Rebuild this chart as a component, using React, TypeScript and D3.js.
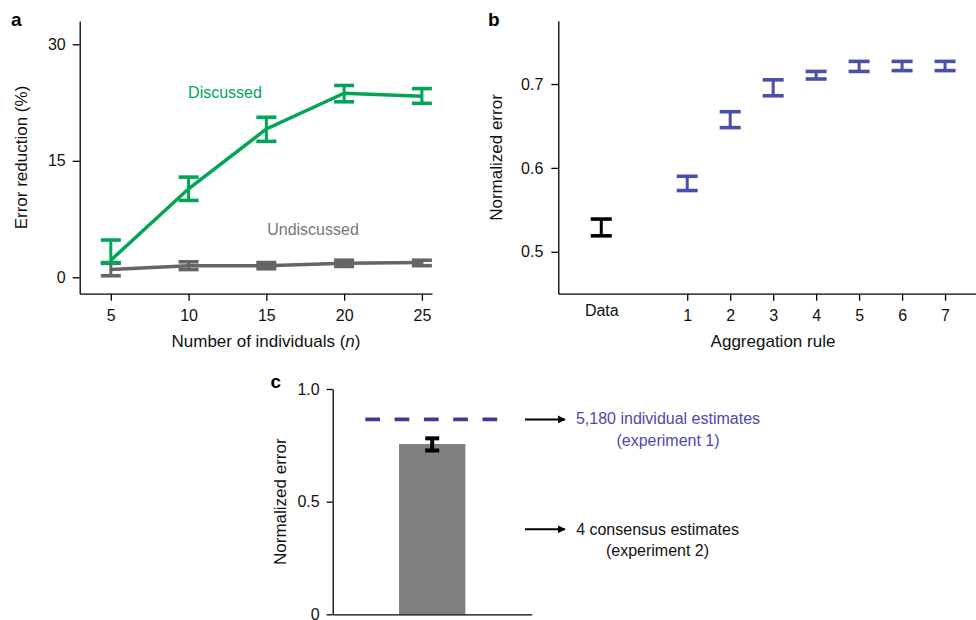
import React, { useRef, useEffect } from "react";
import * as d3 from "d3";

// ─── panel a: error reduction vs group size ──────────────────────────────
const groupSizes = [5, 10, 15, 20, 25];
const discussedMean = [2.2, 11.4, 19.1, 23.7, 23.3];
const discussedLow = [1.9, 9.9, 17.5, 22.6, 22.4];
const discussedHigh = [4.8, 12.9, 20.6, 24.7, 24.3];
const undiscussedMean = [1.0, 1.5, 1.5, 1.8, 1.9];
const undiscussedLow = [0.2, 1.0, 1.1, 1.4, 1.5];
const undiscussedHigh = [1.8, 2.0, 1.9, 2.2, 2.2];
const aTicksY = [0, 15, 30];

// ─── panel b: aggregation rules ──────────────────────────────────────────
const ruleLabels = ["Data", "1", "2", "3", "4", "5", "6", "7"];
const rulePositions = [-1, 1, 2, 3, 4, 5, 6, 7];
const ruleLow = [0.519, 0.573, 0.648, 0.686, 0.706, 0.715, 0.716, 0.716];
const ruleHigh = [0.539, 0.59, 0.667, 0.705, 0.715, 0.727, 0.727, 0.727];
const bTicksY = [0.5, 0.6, 0.7];

// ─── panel c: consensus vs individual ────────────────────────────────────
const consensusError = 0.756;
const consensusLow = 0.727;
const consensusHigh = 0.781;
const individualError = 0.865;
const cTicksY = [0, 0.5, 1];

const FONT = "'Liberation Sans', Arial, Helvetica, sans-serif";
const GREEN = "#00a556";
const GRAY = "#656565";
const BLUE = "#4a4fa8";
const PURPLE = "#3f399c";
const PURPLE_TEXT = "#5148ad";

type Bar = { x: number; lo: number; hi: number; color: string };

function drawErrorBars(g: any, bars: Bar[], x: any, y: any, capW: number, capStroke: number, stemStroke: number) {
  const eg = g.append("g");
  eg.selectAll("line.stem")
    .data(bars)
    .join("line")
    .attr("class", "stem")
    .attr("x1", (d: Bar) => x(d.x)).attr("x2", (d: Bar) => x(d.x))
    .attr("y1", (d: Bar) => y(d.lo)).attr("y2", (d: Bar) => y(d.hi))
    .attr("stroke", (d: Bar) => d.color)
    .attr("stroke-width", stemStroke);
  ["lo", "hi"].forEach((k) => {
    eg.selectAll(`line.cap-${k}`)
      .data(bars)
      .join("line")
      .attr("class", `cap-${k}`)
      .attr("x1", (d: Bar) => x(d.x) - capW / 2).attr("x2", (d: Bar) => x(d.x) + capW / 2)
      .attr("y1", (d: any) => y(d[k])).attr("y2", (d: any) => y(d[k]))
      .attr("stroke", (d: Bar) => d.color)
      .attr("stroke-width", capStroke);
  });
}

function styleAxis(g: any) {
  g.attr("font-family", FONT).attr("font-size", 16);
  g.select(".domain").attr("stroke", "#000").attr("stroke-width", 1.3);
  g.selectAll(".tick line").attr("stroke", "#000").attr("stroke-width", 1.3);
  g.selectAll(".tick text").attr("fill", "#111");
}

export default function App() {
  const svgRef = useRef<SVGSVGElement>(null);

  useEffect(() => {
    const svg = d3.select(svgRef.current);
    svg.selectAll("*").remove();

    // ─── panel a ───────────────────────────────────────────────────────────
    const xa = d3.scaleLinear().domain([3, 25.65]).range([79.7, 432]);
    const ya = d3.scaleLinear().domain([-2.11, 33.0]).range([293.7, 21]);
    const ga = svg.append("g");

    ga.append("g")
      .attr("transform", "translate(0,293.7)")
      .call(d3.axisBottom(xa).tickValues(groupSizes).tickSize(7).tickSizeOuter(0).tickPadding(9) as any)
      .call(styleAxis);
    ga.append("g")
      .attr("transform", "translate(79.7,0)")
      .call(d3.axisLeft(ya).tickValues(aTicksY).tickSize(7).tickSizeOuter(0).tickPadding(7) as any)
      .call(styleAxis);

    const lineA = d3.line<number>().x((_, i) => xa(groupSizes[i])).y((d) => ya(d));
    ga.append("path").datum(undiscussedMean).attr("d", lineA)
      .attr("fill", "none").attr("stroke", GRAY).attr("stroke-width", 3.5);
    drawErrorBars(ga, groupSizes.map((n, i) => ({ x: n, lo: undiscussedLow[i], hi: undiscussedHigh[i], color: GRAY })),
      xa, ya, 20, 3.6, 3);
    ga.append("path").datum(discussedMean).attr("d", lineA)
      .attr("fill", "none").attr("stroke", GREEN).attr("stroke-width", 3.5);
    drawErrorBars(ga, groupSizes.map((n, i) => ({ x: n, lo: discussedLow[i], hi: discussedHigh[i], color: GREEN })),
      xa, ya, 20, 3.6, 3);

    ga.append("text").attr("x", 225).attr("y", 97.5).attr("text-anchor", "middle")
      .attr("font-family", FONT).attr("font-size", 16).attr("fill", GREEN).text("Discussed");
    ga.append("text").attr("x", 313).attr("y", 234.5).attr("text-anchor", "middle")
      .attr("font-family", FONT).attr("font-size", 16).attr("fill", "#777").text("Undiscussed");

    const xTitle = ga.append("text").attr("x", 266).attr("y", 347).attr("text-anchor", "middle")
      .attr("font-family", FONT).attr("font-size", 17).attr("fill", "#111");
    xTitle.append("tspan").text("Number of individuals (");
    xTitle.append("tspan").attr("font-style", "italic").text("n");
    xTitle.append("tspan").text(")");
    ga.append("text").attr("transform", "translate(27,157.5) rotate(-90)").attr("text-anchor", "middle")
      .attr("font-family", FONT).attr("font-size", 17).attr("fill", "#111").text("Error reduction (%)");
    ga.append("text").attr("x", 11).attr("y", 26).attr("font-family", FONT).attr("font-size", 19)
      .attr("font-weight", "bold").text("a");

    // ─── panel b ───────────────────────────────────────────────────────────
    const xb = d3.scaleLinear().domain([-2, 7.72]).range([558.3, 976]);
    const yb = d3.scaleLinear().domain([0.45, 0.7755]).range([293.7, 20.7]);
    const gb = svg.append("g");

    const bx = gb.append("g")
      .attr("transform", "translate(0,293.7)")
      .call(d3.axisBottom(xb).tickValues(rulePositions).tickSize(7).tickSizeOuter(0).tickPadding(9)
        .tickFormat((_, i) => ruleLabels[i]) as any)
      .call(styleAxis);
    const dataTick = bx.selectAll(".tick").filter((_: any, i: number) => i === 0);
    dataTick.select("line").remove();
    dataTick.select("text").attr("y", 11);
    gb.append("g")
      .attr("transform", "translate(558.3,0)")
      .call(d3.axisLeft(yb).tickValues(bTicksY).tickSize(7).tickSizeOuter(0).tickPadding(8)
        .tickFormat(d3.format(".1f")) as any)
      .call(styleAxis);

    drawErrorBars(gb, rulePositions.map((p, i) => ({ x: p, lo: ruleLow[i], hi: ruleHigh[i], color: i === 0 ? "#000" : BLUE })),
      xb, yb, 21, 3.6, 3);

    gb.append("text").attr("x", 773).attr("y", 347).attr("text-anchor", "middle")
      .attr("font-family", FONT).attr("font-size", 17).attr("fill", "#111").text("Aggregation rule");
    gb.append("text").attr("transform", "translate(501.5,157.5) rotate(-90)").attr("text-anchor", "middle")
      .attr("font-family", FONT).attr("font-size", 17).attr("fill", "#111").text("Normalized error");
    gb.append("text").attr("x", 488).attr("y", 25.7).attr("font-family", FONT).attr("font-size", 19)
      .attr("font-weight", "bold").text("b");

    // ─── panel c ───────────────────────────────────────────────────────────
    const yc = d3.scaleLinear().domain([0, 1]).range([614.3, 389]);
    const xc = d3.scaleBand().domain(["consensus"]).range([332.7, 531.7]).paddingInner(0).paddingOuter(1);
    const gc = svg.append("g");

    gc.append("rect")
      .attr("x", xc("consensus")!).attr("width", xc.bandwidth())
      .attr("y", yc(consensusError)).attr("height", yc(0) - yc(consensusError))
      .attr("fill", "#808080");
    const cx = (d: string) => xc(d)! + xc.bandwidth() / 2;
    drawErrorBars(gc, [{ x: 0, lo: consensusLow, hi: consensusHigh, color: "#000" }],
      () => cx("consensus"), yc, 14, 4, 4);

    gc.append("line")
      .attr("x1", 365.3).attr("x2", 497.3)
      .attr("y1", yc(individualError)).attr("y2", yc(individualError))
      .attr("stroke", PURPLE).attr("stroke-width", 3.6).attr("stroke-dasharray", "14.7,14.6");

    gc.append("g")
      .attr("transform", "translate(0,614.3)")
      .call(d3.axisBottom(xc).tickValues([]).tickSizeOuter(0) as any)
      .call(styleAxis);
    gc.append("g")
      .attr("transform", "translate(332.7,0)")
      .call(d3.axisLeft(yc).tickValues(cTicksY).tickSize(6).tickSizeOuter(0).tickPadding(7)
        .tickFormat((d: any) => (d === 0 ? "0" : d3.format(".1f")(d))) as any)
      .call(styleAxis);

    const defs = svg.append("defs");
    defs.append("marker").attr("id", "arrowhead")
      .attr("viewBox", "0 0 10 10").attr("refX", 9).attr("refY", 5)
      .attr("markerWidth", 4).attr("markerHeight", 4).attr("markerUnits", "strokeWidth")
      .attr("orient", "auto")
      .append("path").attr("d", "M0,0L10,5L0,10z").attr("fill", "#000");

    const arrowYs = [yc(individualError), 529.3];
    gc.selectAll("line.arrow").data(arrowYs).join("line").attr("class", "arrow")
      .attr("x1", 525).attr("x2", 565).attr("y1", (d) => d).attr("y2", (d) => d)
      .attr("stroke", "#000").attr("stroke-width", 2).attr("marker-end", "url(#arrowhead)");

    const note = (x: number, y: number, lines: string[], color: string) => {
      const t = gc.append("text").attr("text-anchor", "middle").attr("font-family", FONT)
        .attr("font-size", 16).attr("fill", color);
      lines.forEach((l, i) => t.append("tspan").attr("x", x).attr("y", y + i * 21.5).text(l));
    };
    note(668, 424, ["5,180 individual estimates", "(experiment 1)"], PURPLE_TEXT);
    note(657.5, 534.5, ["4 consensus estimates", "(experiment 2)"], "#111");

    gc.append("text").attr("transform", "translate(285.5,501.7) rotate(-90)").attr("text-anchor", "middle")
      .attr("font-family", FONT).attr("font-size", 17).attr("fill", "#111").text("Normalized error");
    gc.append("text").attr("x", 270.5).attr("y", 388.3).attr("font-family", FONT).attr("font-size", 19)
      .attr("font-weight", "bold").text("c");
  }, []);

  return (
    <div style={{ position: "absolute", left: 0, top: 0 }}>
      <svg ref={svgRef} width={976} height={620} style={{ display: "block", background: "#fff" }} />
    </div>
  );
}
